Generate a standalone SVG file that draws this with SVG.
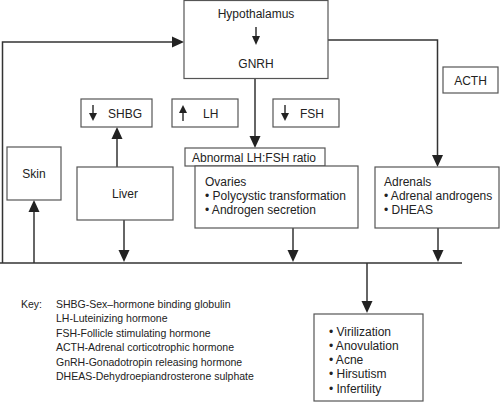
<svg xmlns="http://www.w3.org/2000/svg" width="500" height="404" viewBox="0 0 500 404">
<style>
.box{fill:#fff;stroke:#555;stroke-width:1.2}
.ln{fill:none;stroke:#333;stroke-width:1.5}
.ah{fill:#222}
text{font-family:"Liberation Sans",Arial,sans-serif;font-size:12px;fill:#222}
.c{text-anchor:middle}
.key{font-size:10.5px}
</style>
<rect width="500" height="404" fill="#fff"/>
<g id="connectors">
<polyline class="ln" points="2.5,263 2.5,42 174,42"/>
<polygon class="ah" points="172,36.5 172,47.5 184,42"/>
<polyline class="ln" points="328,40 437.5,40 437.5,156"/>
<polygon class="ah" points="432,155 443,155 437.5,167"/>
<line class="ln" x1="255" y1="78" x2="255" y2="138"/>
<polygon class="ah" points="249.5,136 260.5,136 255,148"/>
<line class="ln" x1="117" y1="167" x2="117" y2="137"/>
<polygon class="ah" points="111.5,139 122.5,139 117,127"/>
<line class="ln" x1="124" y1="220" x2="124" y2="252"/>
<polygon class="ah" points="118.5,250 129.5,250 124,262"/>
<line class="ln" x1="34" y1="263" x2="34" y2="210"/>
<polygon class="ah" points="28.5,212 39.5,212 34,200"/>
<line class="ln" x1="293" y1="228" x2="293" y2="252"/>
<polygon class="ah" points="287.5,250 298.5,250 293,262"/>
<line class="ln" x1="438" y1="228" x2="438" y2="252"/>
<polygon class="ah" points="432.5,250 443.5,250 438,262"/>
<line class="ln" x1="0" y1="263" x2="462" y2="263"/>
<line class="ln" x1="367" y1="263" x2="367" y2="303"/>
<polygon class="ah" points="361.5,301 372.5,301 367,313"/>
</g>
<g id="hypothalamus">
<rect class="box" x="184" y="0.5" width="144" height="78"/>
<text class="c" x="256" y="18">Hypothalamus</text>
<line class="ln" x1="256" y1="27" x2="256" y2="38"/>
<polygon class="ah" points="252,36 260,36 256,45"/>
<text class="c" x="256" y="68">GNRH</text>
</g>
<g id="acth">
<rect class="box" x="443" y="67" width="55" height="26"/>
<text class="c" x="470.5" y="84.5">ACTH</text>
</g>
<g id="shbg">
<rect class="box" x="81" y="99" width="71" height="28"/>
<line class="ln" x1="93" y1="105" x2="93" y2="115"/>
<polygon class="ah" points="89,113 97,113 93,121"/>
<text x="108" y="117.5">SHBG</text>
</g>
<g id="lh">
<rect class="box" x="172" y="99" width="66" height="28"/>
<line class="ln" x1="183" y1="121" x2="183" y2="111"/>
<polygon class="ah" points="179,113 187,113 183,105"/>
<text x="203" y="117.5">LH</text>
</g>
<g id="fsh">
<rect class="box" x="273" y="99" width="66" height="28"/>
<line class="ln" x1="285" y1="105" x2="285" y2="115"/>
<polygon class="ah" points="281,113 289,113 285,121"/>
<text x="300" y="117.5">FSH</text>
</g>
<g id="ratio">
<rect class="box" x="185" y="148" width="140" height="18"/>
<text x="192" y="161.5">Abnormal LH:FSH ratio</text>
</g>
<g id="ovaries">
<rect class="box" x="195" y="166" width="163" height="62"/>
<text x="205" y="186">Ovaries</text>
<text x="205" y="200">• Polycystic transformation</text>
<text x="205" y="214">• Androgen secretion</text>
</g>
<g id="adrenals">
<rect class="box" x="375" y="167" width="124" height="61"/>
<text x="384" y="186">Adrenals</text>
<text x="384" y="200">• Adrenal androgens</text>
<text x="384" y="214">• DHEAS</text>
</g>
<g id="skin">
<rect class="box" x="7" y="147" width="54" height="53"/>
<text class="c" x="34" y="178">Skin</text>
</g>
<g id="liver">
<rect class="box" x="77" y="167" width="96" height="53"/>
<text class="c" x="125" y="197.5">Liver</text>
</g>
<g id="symptoms">
<rect class="box" x="314" y="314" width="109" height="87"/>
<text x="329" y="335.5">• Virilization</text>
<text x="329" y="349.8">• Anovulation</text>
<text x="329" y="364.1">• Acne</text>
<text x="329" y="378.4">• Hirsutism</text>
<text x="329" y="392.7">• Infertility</text>
</g>
<g id="key">
<text class="key" x="21" y="308">Key:</text>
<text class="key" x="56" y="308">SHBG-Sex–hormone binding globulin</text>
<text class="key" x="56" y="322.4">LH-Luteinizing hormone</text>
<text class="key" x="56" y="336.8">FSH-Follicle stimulating hormone</text>
<text class="key" x="56" y="351.2">ACTH-Adrenal corticotrophic hormone</text>
<text class="key" x="56" y="365.6">GnRH-Gonadotropin releasing hormone</text>
<text class="key" x="56" y="380">DHEAS-Dehydroepiandrosterone sulphate</text>
</g>
</svg>
